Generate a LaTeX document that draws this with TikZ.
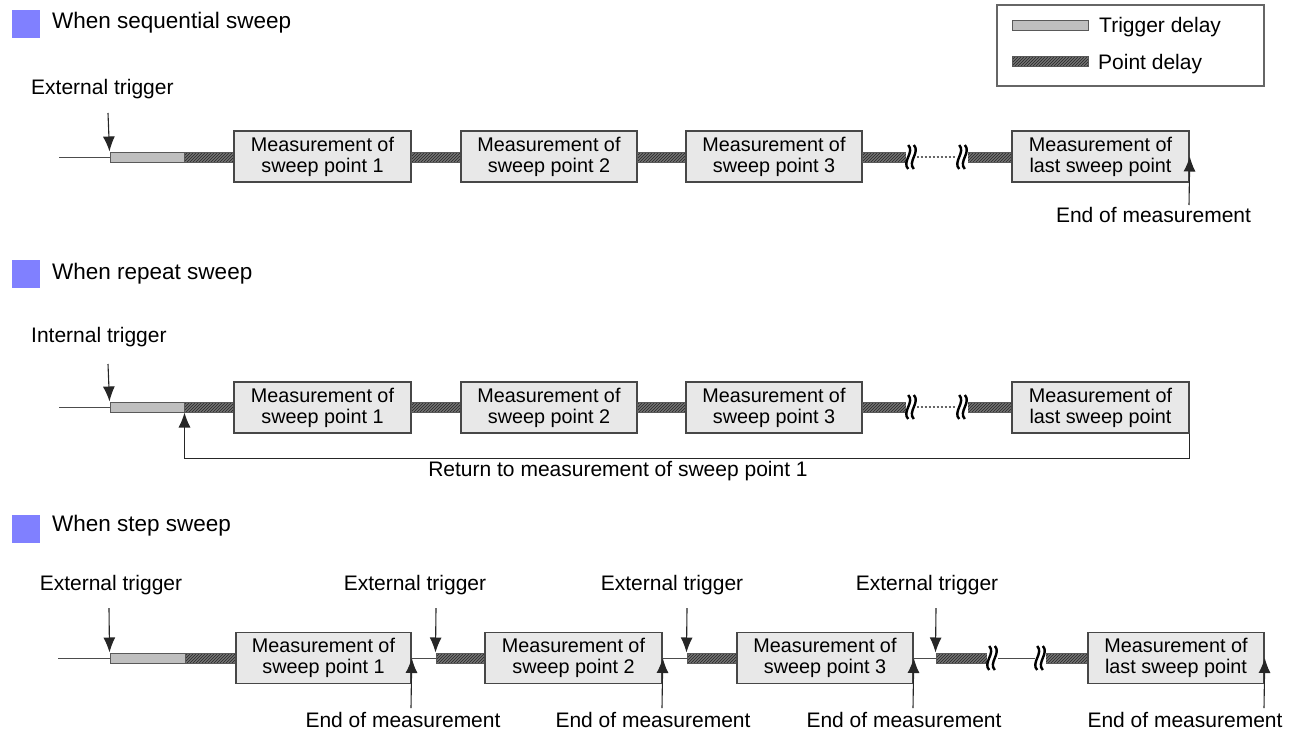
\documentclass[tikz,border=0pt]{standalone}
\usepackage{fontspec}
\setmainfont{Liberation Sans}
\usetikzlibrary{patterns,arrows.meta}
\newcommand\myboxfont{\fontsize{19.8}{21}\selectfont}
\newcommand\mylblfont{\fontsize{21}{24}\selectfont}
\newcommand\mytitlefont{\fontsize{22.5}{26}\selectfont}
\definecolor{titlesq}{RGB}{128,128,255}
\begin{document}
\begin{tikzpicture}[x=1pt,y=-1pt,
  mbox/.style={draw=black!72, line width=1.5pt, fill=black!9, minimum height=51pt, inner sep=0pt, align=center, font=\myboxfont},
  tdel/.style={draw=black!65, line width=1pt, fill=black!25, minimum height=10pt, inner sep=0pt},
  pdel/.style={draw=black!65, line width=1pt, preaction={fill=black!55}, pattern=north east lines, pattern color=black!85, minimum height=10pt, inner sep=0pt},
  lbl/.style={font=\mylblfont, inner sep=0pt},
  ttl/.style={font=\mytitlefont, inner sep=0pt},
  sq/.style={fill=titlesq, minimum width=28pt, minimum height=28pt, inner sep=0pt},
  arr/.style={draw=black!85, line width=1.1pt, -{Latex[length=15pt,width=12pt]}},
  thinln/.style={draw=black!70, line width=1pt},
  dotln/.style={draw=black!60, line width=1.3pt, dash pattern=on 2pt off 2pt},
  brk/.pic={
    \fill[white] (-5.5,-13) rectangle (5.5,13);
    \draw[black, line width=2.4pt] (-2.8,-12) .. controls (4,-5) and (-9.6,5) .. (-2.8,12);
    \draw[black, line width=2.4pt] (2.8,-12) .. controls (9.6,-5) and (-4,5) .. (2.8,12);
  }]
\useasboundingbox (0,0) rectangle (1295,733);

% ---------- legend ----------
\node[draw=black!60, line width=1.2pt, minimum width=267pt, minimum height=81pt, inner sep=0pt] (legend) at (1130.5,45.5) {};
\node[tdel, minimum width=76pt] (lgt) at (1050,25.5) {};
\node[pdel, minimum width=76pt] (lgp) at (1050,62) {};
\node[lbl, anchor=base west] (lgtt) at (1099,33) {Trigger delay};
\node[lbl, anchor=base west] (lgpt) at (1098,70) {Point delay};

% ---------- row 1: sequential sweep ----------
\node[sq] (sq1) at (26,24) {};
\node[ttl, anchor=base west] (t1) at (52,29) {When sequential sweep};
\node[lbl, anchor=base west] (x1) at (31,95) {External trigger};
\coordinate (l1) at (59,157);
\node[tdel, minimum width=74pt] (td1) at (147,157) {};
\node[pdel, minimum width=50pt] (p1a) at (209,157) {};
\node[mbox, minimum width=177pt] (a1) at (322.5,156.5) {Measurement of\\sweep point 1};
\node[pdel, minimum width=50pt] (p1b) at (436,157) {};
\node[mbox, minimum width=176pt] (a2) at (549,156.5) {Measurement of\\sweep point 2};
\node[pdel, minimum width=49pt] (p1c) at (661.5,157) {};
\node[mbox, minimum width=176pt] (a3) at (774,156.5) {Measurement of\\sweep point 3};
\node[pdel, minimum width=50pt] (p1d) at (887,157) {};
\node[pdel, minimum width=50pt] (p1e) at (987,157) {};
\node[mbox, minimum width=177pt] (a4) at (1100.5,156.5) {Measurement of\\last sweep point};
\draw[thinln] (l1) -- (td1.west);
\draw[dotln] (p1d.east) -- (p1e.west);
\pic at (911,157) {brk};
\pic at (962,157) {brk};
\coordinate (x1s) at (108,113);
\draw[arr] (x1s) -- (td1.north west);
\coordinate (e1s) at (1189,205);
\draw[arr] (e1s) -- (a4.east);
\node[lbl, anchor=base] (e1) at (1153.5,222) {End of measurement};

% ---------- row 2: repeat sweep ----------
\node[sq] (sq2) at (26,274) {};
\node[ttl, anchor=base west] (t2) at (52,279) {When repeat sweep};
\node[lbl, anchor=base west] (x2) at (31,342) {Internal trigger};
\coordinate (l2) at (59,407);
\node[tdel, minimum width=74pt] (td2) at (147,407) {};
\node[pdel, minimum width=50pt] (p2a) at (209,407) {};
\node[mbox, minimum width=177pt] (c1) at (322.5,407.5) {Measurement of\\sweep point 1};
\node[pdel, minimum width=50pt] (p2b) at (436,407) {};
\node[mbox, minimum width=176pt] (c2) at (549,407.5) {Measurement of\\sweep point 2};
\node[pdel, minimum width=49pt] (p2c) at (661.5,407) {};
\node[mbox, minimum width=176pt] (c3) at (774,407.5) {Measurement of\\sweep point 3};
\node[pdel, minimum width=50pt] (p2d) at (887,407) {};
\node[pdel, minimum width=50pt] (p2e) at (987,407) {};
\node[mbox, minimum width=177pt] (c4) at (1100.5,407.5) {Measurement of\\last sweep point};
\draw[thinln] (l2) -- (td2.west);
\draw[dotln] (p2d.east) -- (p2e.west);
\pic at (911,407) {brk};
\pic at (962,407) {brk};
\coordinate (x2s) at (108,364);
\draw[arr] (x2s) -- (td2.north west);
\draw[arr] (c4.south east) -- ++(0,24.5) -| (td2.south east);
\node[lbl, anchor=base] (ret) at (618,476) {Return to measurement of sweep point 1};

% ---------- row 3: step sweep ----------
\node[sq] (sq3) at (26,529) {};
\node[ttl, anchor=base west] (t3) at (52,531) {When step sweep};
\coordinate (l3) at (58,658);
\node[tdel, minimum width=75pt] (td3) at (147.5,658) {};
\node[pdel, minimum width=51pt] (p3a) at (210.5,658) {};
\node[mbox, minimum width=175pt] (b1) at (323.5,658) {Measurement of\\sweep point 1};
\node[pdel, minimum width=49pt] (p3b) at (460.5,658) {};
\node[mbox, minimum width=177pt] (b2) at (573.5,658) {Measurement of\\sweep point 2};
\node[pdel, minimum width=50pt] (p3c) at (712,658) {};
\node[mbox, minimum width=176pt] (b3) at (825,658) {Measurement of\\sweep point 3};
\node[pdel, minimum width=56pt] (p3d) at (964,658) {};
\node[pdel, minimum width=50pt] (p3e) at (1063,658) {};
\node[mbox, minimum width=176pt] (b4) at (1176,658) {Measurement of\\last sweep point};
\draw[thinln] (l3) -- (td3.west);
\draw[thinln] (b1.east) -- (p3b.west);
\draw[thinln] (b2.east) -- (p3c.west);
\draw[thinln] (b3.east) -- (p3d.west);
\draw[thinln] (p3d.east) -- (p3e.west);
\pic at (992,658) {brk};
\pic at (1040,658) {brk};
% triggers
\node[lbl, anchor=base] (y1) at (111,590) {External trigger};
\node[lbl, anchor=base] (y2) at (415,590) {External trigger};
\node[lbl, anchor=base] (y3) at (672,590) {External trigger};
\node[lbl, anchor=base] (y4) at (927,590) {External trigger};
\coordinate (y1s) at (109,608);
\coordinate (y2s) at (436,608);
\coordinate (y3s) at (687,608);
\coordinate (y4s) at (936,608);
\draw[arr] (y1s) -- (td3.north west);
\draw[arr] (y2s) -- (p3b.north west);
\draw[arr] (y3s) -- (p3c.north west);
\draw[arr] (y4s) -- (p3d.north west);
% ends
\coordinate (z1s) at (411,708);
\coordinate (z2s) at (662,708);
\coordinate (z3s) at (913,708);
\coordinate (z4s) at (1264,708);
\draw[arr] (z1s) -- (b1.east);
\draw[arr] (z2s) -- (b2.east);
\draw[arr] (z3s) -- (b3.east);
\draw[arr] (z4s) -- (b4.east);
\node[lbl, anchor=base] (z1) at (403,727) {End of measurement};
\node[lbl, anchor=base] (z2) at (653,727) {End of measurement};
\node[lbl, anchor=base] (z3) at (904,727) {End of measurement};
\node[lbl, anchor=base] (z4) at (1185,727) {End of measurement};
\end{tikzpicture}
\end{document}
